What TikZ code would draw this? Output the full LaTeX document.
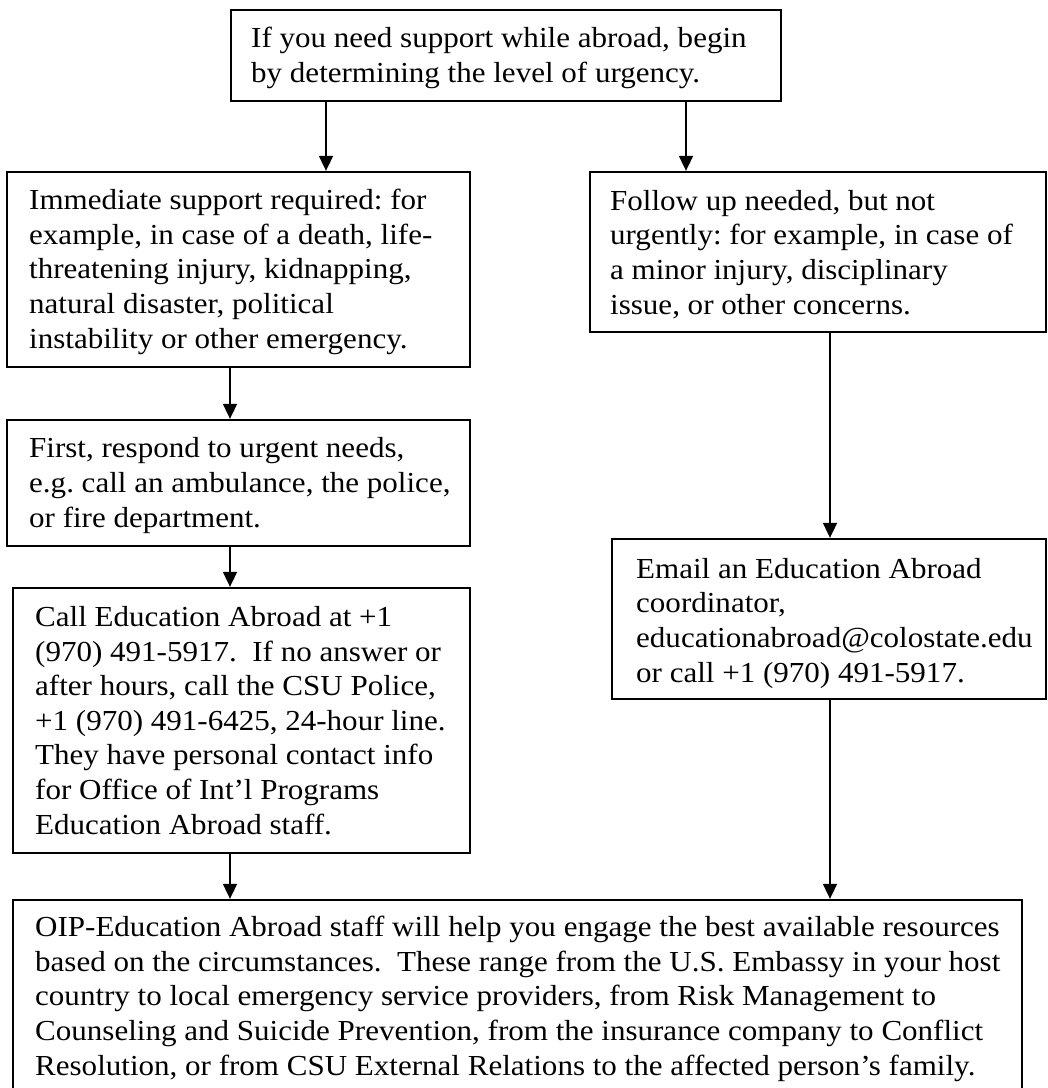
\documentclass[tikz,border=0pt]{standalone}
\usepackage{fontspec}
\setmainfont[FakeStretch=1.07]{Liberation Serif}
\usetikzlibrary{arrows.meta}
\begin{document}
\begin{tikzpicture}[x=1pt,y=-1pt,
  boxst/.style={draw,line width=2.3pt,rectangle,inner sep=0pt},
  txt/.style={anchor=base west,align=left,inner sep=0pt,font=\fontsize{29}{34.6}\selectfont\frenchspacing},
  arr/.style={line width=1.8pt,-{Triangle[length=15pt,width=14pt]}}]
\useasboundingbox (0,0) rectangle (1048,1088);
% boxes
\node[boxst,minimum width=550pt,minimum height=91pt] (b1) at (506,55.5) {};
\node[boxst,minimum width=463pt,minimum height=195pt] (b2) at (238.5,269.5) {};
\node[boxst,minimum width=456pt,minimum height=160pt] (b3) at (818,252) {};
\node[boxst,minimum width=463pt,minimum height=126pt] (b4) at (238.5,483) {};
\node[boxst,minimum width=457pt,minimum height=265pt] (b5) at (241.5,720.5) {};
\node[boxst,minimum width=434pt,minimum height=160pt] (b6) at (829,619) {};
\node[boxst,minimum width=1009pt,minimum height=200pt] (b7) at (517.5,1000) {};
% texts (anchored at the baseline of their last line)
\node[txt] (t1) at (251,82) {If you need support while abroad, begin\\by determining the level of urgency.};
\node[txt] (t2) at (29,348) {Immediate support required: for\\example, in case of a death, life-\\threatening injury, kidnapping,\\natural disaster, political\\instability or other emergency.};
\node[txt] (t3) at (610,314) {Follow up needed, but not\\urgently: for example, in case of\\a minor injury, disciplinary\\issue, or other concerns.};
\node[txt] (t4) at (29,527) {First, respond to urgent needs,\\e.g. call an ambulance, the police,\\or fire department.};
\node[txt] (t5) at (35,834) {Call Education Abroad at +1\\(970) 491-5917.\ \ If no answer or\\after hours, call the CSU Police,\\+1 (970) 491-6425, 24-hour line.\\They have personal contact info\\for Office of Int’l Programs\\Education Abroad staff.};
\node[txt] (t6) at (636,682) {Email an Education Abroad\\coordinator,\\educationabroad@colostate.edu\\or call +1 (970) 491-5917.};
\node[txt] (t7) at (35,1075) {OIP-Education Abroad staff will help you engage the best available resources\\based on the circumstances.\ \ These range from the U.S. Embassy in your host\\country to local emergency service providers, from Risk Management to\\Counseling and Suicide Prevention, from the insurance company to Conflict\\Resolution, or from CSU External Relations to the affected person’s family.};
% columns
\coordinate (cA) at (326,0);
\coordinate (cB) at (686,0);
\coordinate (cC) at (230,0);
\coordinate (cD) at (830,0);
% connectors
\draw[arr] (b1.south -| cA) -- (b2.north -| cA);
\draw[arr] (b1.south -| cB) -- (b3.north -| cB);
\draw[arr] (b2.south -| cC) -- (b4.north -| cC);
\draw[arr] (b4.south -| cC) -- (b5.north -| cC);
\draw[arr] (b5.south -| cC) -- (b7.north -| cC);
\draw[arr] (b3.south -| cD) -- (b6.north -| cD);
\draw[arr] (b6.south -| cD) -- (b7.north -| cD);
\end{tikzpicture}
\end{document}
